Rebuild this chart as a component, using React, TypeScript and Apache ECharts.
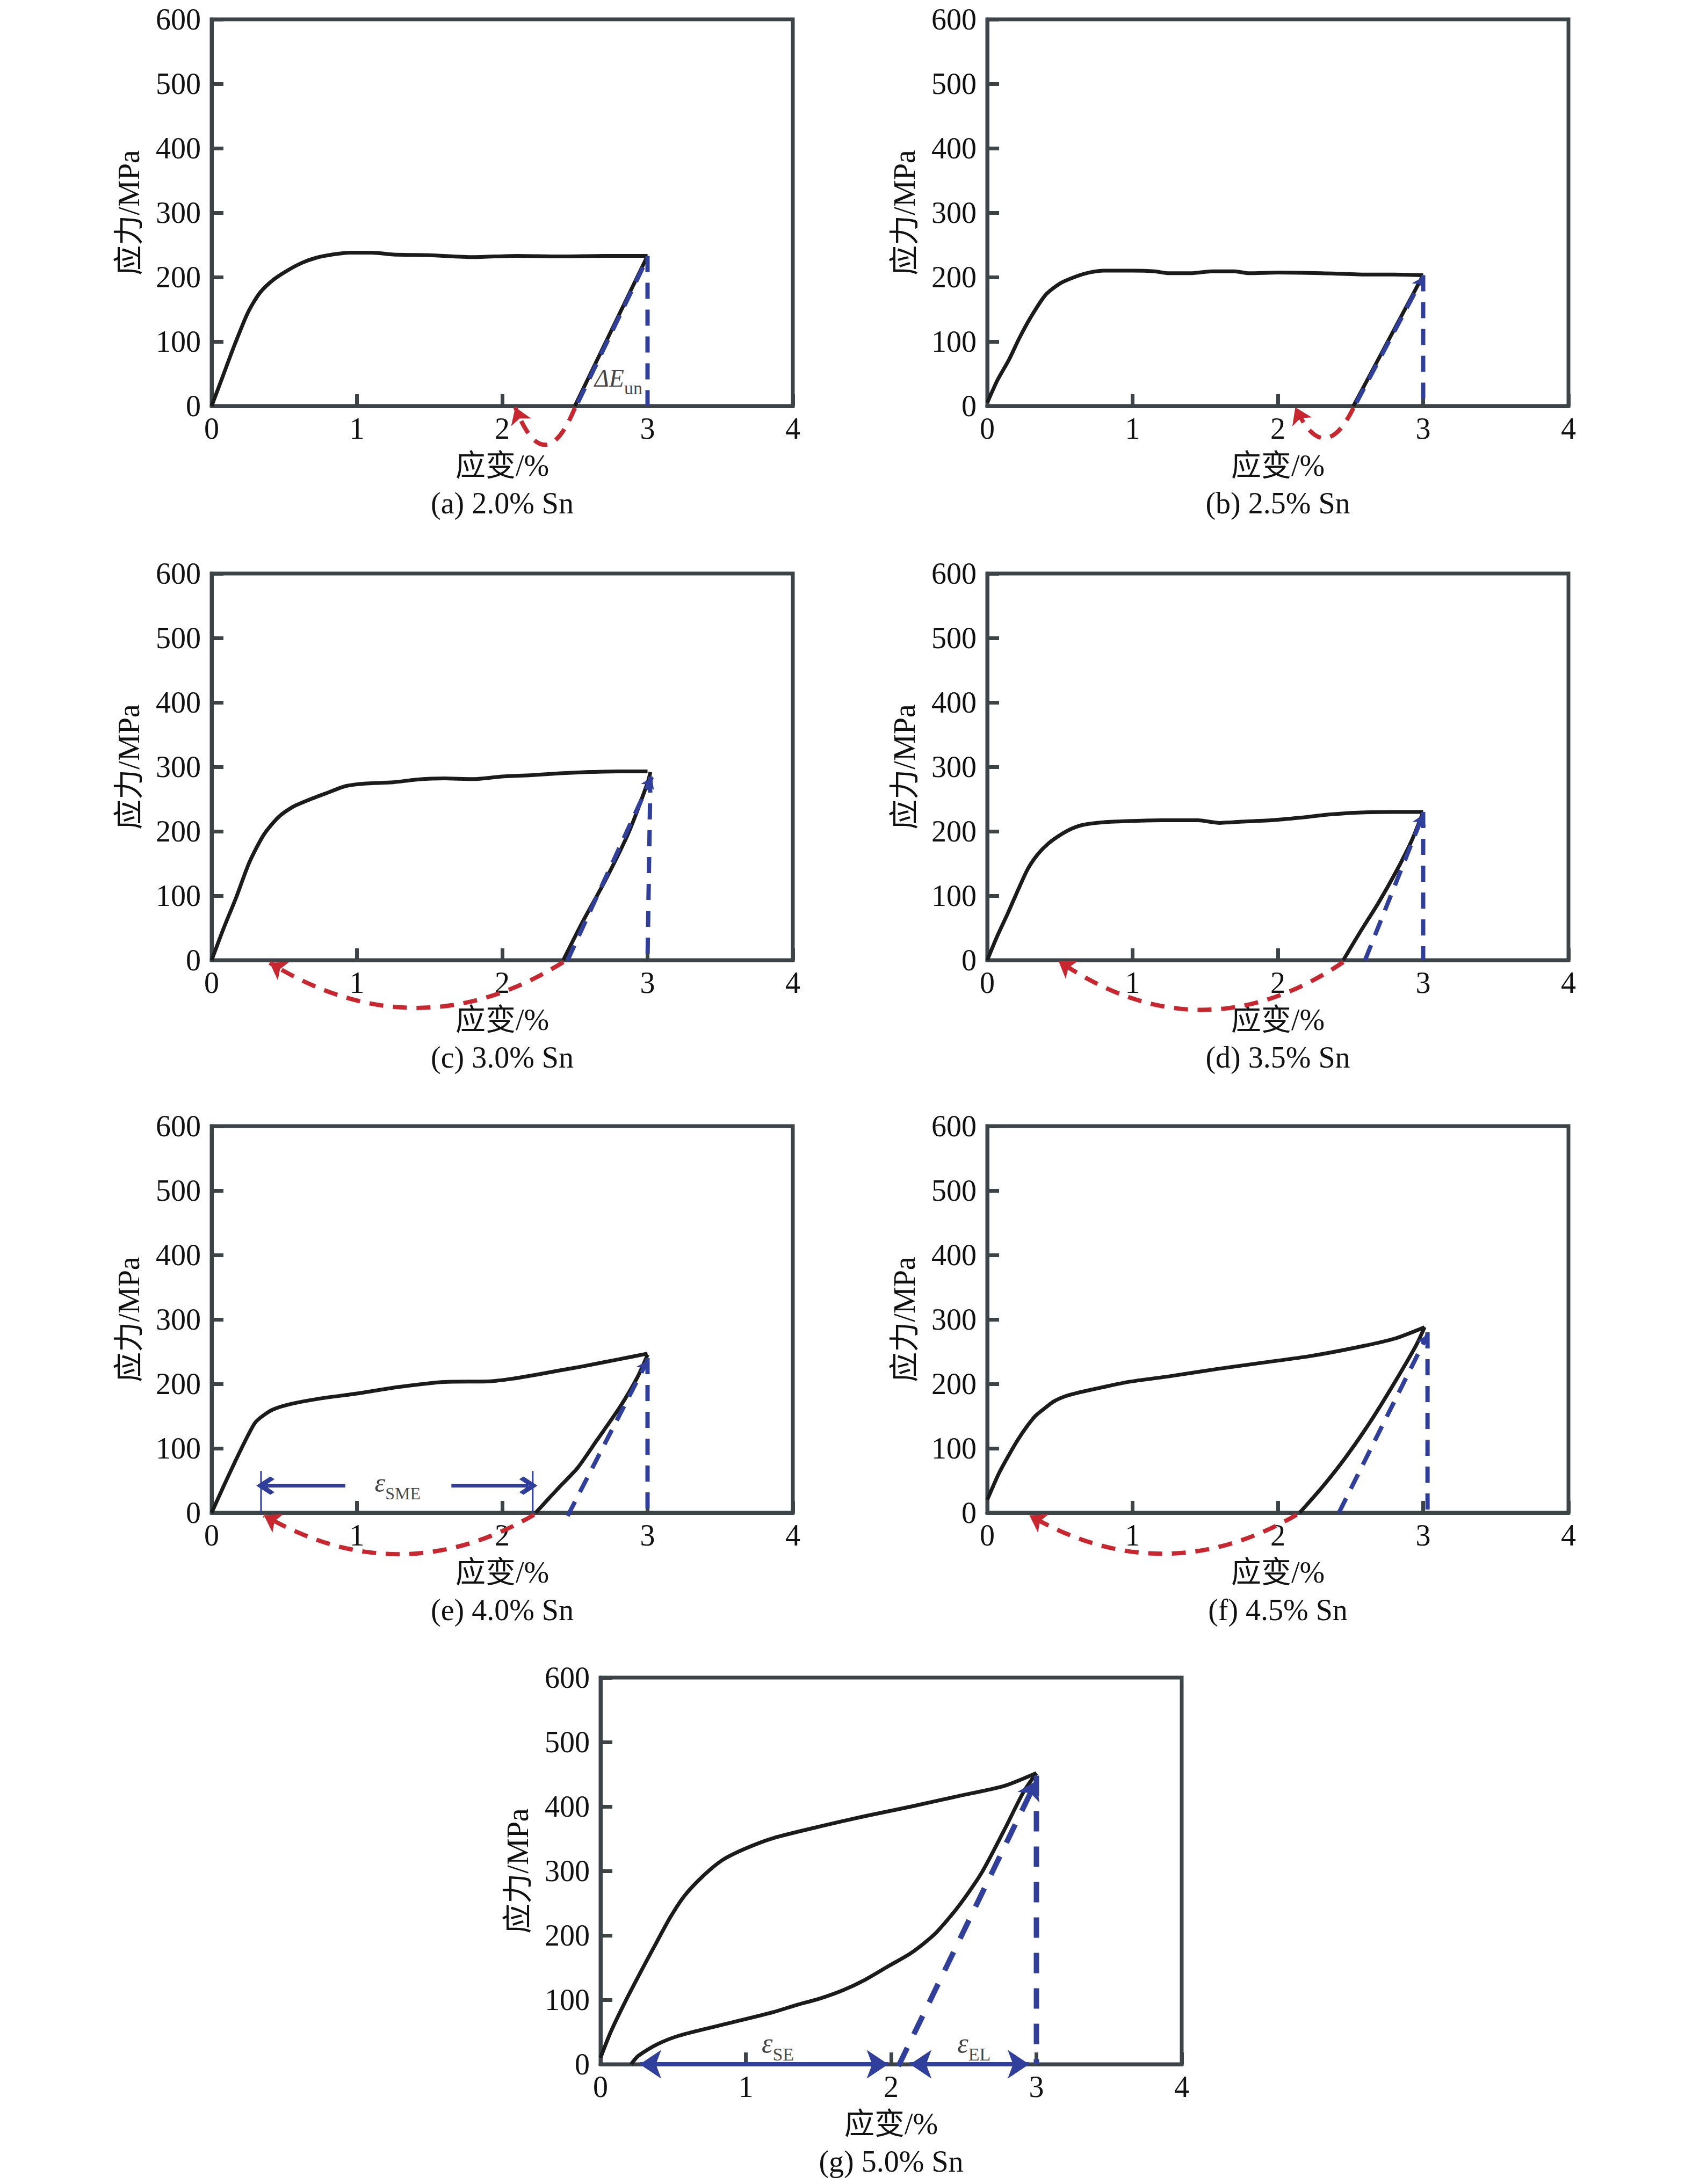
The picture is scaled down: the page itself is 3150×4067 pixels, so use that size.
import React, { useEffect, useRef } from 'react';
import * as echarts from 'echarts';

const FONT = '"Liberation Serif", "Noto Sans CJK SC", serif';
const TEXT = '#111111';
const BLACK = '#1b1b1b';
const FRAME = '#3c4448';
const BLUE = '#2f3f9b';
const RED = '#c9272f';

const strainRange = { min: 0, max: 4, interval: 1 };
const stressRange = { min: 0, max: 600, interval: 100 };
const strainName = '应变/%';
const stressName = '应力/MPa';

const captions = [
  '(a) 2.0% Sn',
  '(b) 2.5% Sn',
  '(c) 3.0% Sn',
  '(d) 3.5% Sn',
  '(e) 4.0% Sn',
  '(f) 4.5% Sn',
  '(g) 5.0% Sn',
];

// (a) 2.0% Sn
const loadA = [[0, 0], [0.08, 48], [0.16, 96], [0.25, 145], [0.33, 175], [0.42, 195], [0.52, 210], [0.62, 222], [0.72, 230], [0.83, 235], [0.95, 238], [1.1, 238], [1.25, 235], [1.5, 234], [1.8, 231], [2.1, 233], [2.4, 232], [2.7, 233], [3.0, 233]];
const unloadA = [[2.5, 0], [3.0, 233]];
const elasticA = [[2.52, 5], [3.0, 230]];
const dropA = [[3.0, 233], [3.0, 0]];
const recoveryA = [[2.5, -3], [2.09, -2]];

// (b) 2.5% Sn
const loadB = [[0, 5], [0.07, 40], [0.15, 72], [0.22, 105], [0.3, 138], [0.4, 172], [0.5, 190], [0.6, 200], [0.7, 207], [0.8, 210], [1.0, 210], [1.15, 209], [1.25, 206], [1.4, 206], [1.55, 209], [1.7, 209], [1.8, 206], [2.0, 207], [2.3, 206], [2.6, 204], [2.8, 204], [3.0, 203]];
const unloadB = [[2.52, 0], [3.0, 203]];
const elasticB = [[2.54, 5], [3.0, 200]];
const dropB = [[3.0, 203], [3.0, 0]];
const recoveryB = [[2.52, -3], [2.12, -2]];

// (c) 3.0% Sn
const loadC = [[0, 0], [0.08, 48], [0.17, 98], [0.26, 152], [0.36, 195], [0.46, 222], [0.56, 238], [0.66, 248], [0.8, 260], [0.92, 270], [1.05, 274], [1.25, 276], [1.4, 280], [1.6, 282], [1.8, 281], [2.0, 285], [2.2, 287], [2.4, 290], [2.6, 292], [2.8, 293], [3.0, 293]];
const unloadC = [[2.42, 0], [2.55, 58], [2.71, 124], [2.87, 198], [3.0, 275], [3.02, 292]];
const elasticC = [[2.45, 0], [3.03, 284]];
const dropC = [[3.02, 285], [3.0, 0]];
const recoveryC = [[2.42, -3], [0.4, -4]];

// (d) 3.5% Sn
const loadD = [[0, 0], [0.07, 38], [0.14, 72], [0.21, 108], [0.28, 142], [0.35, 165], [0.42, 181], [0.5, 194], [0.58, 204], [0.66, 210], [0.8, 214], [1.0, 216], [1.2, 217], [1.45, 217], [1.6, 213], [1.75, 215], [1.95, 217], [2.15, 221], [2.35, 226], [2.55, 229], [2.8, 230], [3.0, 230]];
const unloadD = [[2.45, 0], [2.57, 45], [2.69, 88], [2.82, 140], [2.92, 185], [3.0, 230]];
const elasticD = [[2.6, 0], [3.0, 226]];
const dropD = [[3.0, 230], [3.0, 0]];
const recoveryD = [[2.45, -3], [0.49, -1]];

// (e) 4.0% Sn
const loadE = [[0, 0], [0.08, 40], [0.165, 81], [0.25, 120], [0.3, 140], [0.35, 150], [0.42, 160], [0.55, 169], [0.74, 177], [1.0, 185], [1.28, 195], [1.6, 203], [1.92, 204], [2.07, 208], [2.23, 214], [2.4, 221], [2.55, 227], [2.8, 238], [3.0, 247]];
const unloadE = [[2.23, 0], [2.39, 39], [2.52, 70], [2.65, 112], [2.81, 164], [2.93, 210], [3.0, 245]];
const elasticE = [[2.45, -5], [3.0, 236]];
const dropE = [[3.0, 240], [3.0, 0]];
const recoveryE = [[2.22, -3], [0.36, -4]];
const smeBarLeft = [[0.34, 0], [0.34, 65]];
const smeBarRight = [[2.21, 0], [2.21, 65]];
const smeArrowLeft = [[0.92, 42], [0.37, 42]];
const smeArrowRight = [[1.65, 42], [2.18, 42]];
const smeLabelAt = [1.28, 42];

// (f) 4.5% Sn
const loadF = [[0, 20], [0.08, 61], [0.15, 90], [0.21, 113], [0.27, 133], [0.33, 150], [0.4, 163], [0.46, 173], [0.54, 181], [0.62, 186], [0.78, 194], [0.97, 203], [1.26, 212], [1.58, 223], [1.9, 233], [2.22, 243], [2.53, 256], [2.8, 270], [3.01, 288]];
const unloadF = [[2.15, 0], [2.31, 41], [2.47, 87], [2.63, 139], [2.79, 197], [2.95, 259], [3.01, 288]];
const elasticF = [[2.42, 0], [3.03, 276]];
const dropF = [[3.03, 280], [3.03, 0]];
const recoveryF = [[2.13, -3], [0.29, -4]];

// (g) 5.0% Sn
const loadG = [[0, 10], [0.07, 50], [0.17, 97], [0.29, 149], [0.39, 191], [0.48, 228], [0.58, 262], [0.71, 293], [0.84, 317], [1.0, 335], [1.19, 351], [1.51, 369], [1.82, 385], [2.14, 400], [2.46, 416], [2.78, 432], [3.0, 452]];
const unloadG = [[0.21, 0], [0.26, 13], [0.39, 31], [0.55, 45], [0.87, 63], [1.19, 81], [1.35, 92], [1.51, 102], [1.67, 115], [1.82, 131], [1.98, 152], [2.14, 173], [2.3, 202], [2.46, 244], [2.62, 296], [2.78, 364], [2.91, 422], [3.0, 452]];
const elasticG = [[2.05, -3], [3.0, 440]];
const dropG = [[3.0, 448], [3.0, 0]];
const seArrow = [[0.27, 0], [1.98, 0]];
const elArrow = [[2.13, 0], [2.95, 0]];
const seLabelAt = [1.22, 28];
const elLabelAt = [2.57, 28];
const dEunLabelAt = [2.8, 38];

// layout (pixels)
const W = 1082;
const H = 720;
const boxes = [
  { left: 394, top: 36 },
  { left: 1838, top: 36 },
  { left: 394, top: 1068 },
  { left: 1838, top: 1068 },
  { left: 394, top: 2097 },
  { left: 1838, top: 2097 },
  { left: 1118, top: 3124 },
];

const panels = [
  { load: loadA, unload: unloadA, elastic: elasticA, drop: dropA, recovery: recoveryA, curveness: 1.25, tipSize: 0 },
  { load: loadB, unload: unloadB, elastic: elasticB, drop: dropB, recovery: recoveryB, curveness: 1.05, tipSize: 20 },
  { load: loadC, unload: unloadC, elastic: elasticC, drop: dropC, recovery: recoveryC, curveness: 0.31, tipSize: 20 },
  { load: loadD, unload: unloadD, elastic: elasticD, drop: dropD, recovery: recoveryD, curveness: 0.34, tipSize: 20 },
  { load: loadE, unload: unloadE, elastic: elasticE, drop: dropE, recovery: recoveryE, curveness: 0.29, tipSize: 20 },
  { load: loadF, unload: unloadF, elastic: elasticF, drop: dropF, recovery: recoveryF, curveness: 0.29, tipSize: 20 },
  { load: loadG, unload: unloadG, elastic: elasticG, drop: dropG, recovery: null, curveness: 0, tipSize: 34 },
];

const CHEVRON = 'path://M0,0 L14,13 L10,17 L0,8 L-10,17 L-14,13 Z';

const symbolLabel = (i: number, at: number[], main: string, sub: string, mainSize: number, subSize: number) => ({
  type: 'scatter',
  xAxisIndex: i,
  yAxisIndex: i,
  data: [at],
  symbolSize: 1,
  itemStyle: { color: 'rgba(0,0,0,0)' },
  silent: true,
  z: 10,
  label: {
    show: true,
    position: 'inside',
    formatter: `{m|${main}}{s|${sub}}`,
    rich: {
      m: { fontFamily: FONT, fontStyle: 'italic', fontSize: mainSize, color: TEXT, verticalAlign: 'bottom', padding: [0, 0, Math.round(subSize * 0.35), 0] },
      s: { fontFamily: FONT, fontSize: subSize, color: TEXT, verticalAlign: 'bottom' },
    },
  },
});

function buildSeries() {
  const series: any[] = [];
  panels.forEach((p, i) => {
    const curve = { symbol: 'none', smooth: 0.25, lineStyle: { color: BLACK, width: 7 } };
    series.push({ type: 'line', xAxisIndex: i, yAxisIndex: i, data: p.load, ...curve });
    series.push({ type: 'line', xAxisIndex: i, yAxisIndex: i, data: p.unload, ...curve });
    const dash = i === 6 ? [38, 28] : [30, 20];
    const dw = i === 6 ? 10 : 8;
    series.push({
      type: 'line', xAxisIndex: i, yAxisIndex: i, data: p.drop, symbol: 'none', z: 4,
      lineStyle: { color: BLUE, width: dw, type: dash },
    });
    series.push({
      type: 'lines', coordinateSystem: 'cartesian2d', xAxisIndex: i, yAxisIndex: i, clip: false, z: 4,
      symbol: ['none', p.tipSize ? 'arrow' : 'none'], symbolSize: p.tipSize || 1,
      lineStyle: { color: BLUE, width: dw, type: dash, opacity: 1 },
      data: [{ coords: p.elastic }],
    });
    if (p.recovery) {
      series.push({
        type: 'lines', coordinateSystem: 'cartesian2d', xAxisIndex: i, yAxisIndex: i, clip: false, z: 5,
        symbol: ['none', 'arrow'], symbolSize: 30,
        lineStyle: { color: RED, width: 8, type: [26, 18], curveness: p.curveness, opacity: 1 },
        data: [{ coords: p.recovery }],
      });
    }
  });

  // (a) unloading modulus label
  series.push(symbolLabel(0, dEunLabelAt, 'ΔE', 'un', 46, 34));

  // (e) shape memory strain
  [smeBarLeft, smeBarRight].forEach((bar) => {
    series.push({ type: 'line', xAxisIndex: 4, yAxisIndex: 4, data: bar, symbol: 'none', lineStyle: { color: BLUE, width: 3 } });
  });
  series.push({
    type: 'lines', coordinateSystem: 'cartesian2d', xAxisIndex: 4, yAxisIndex: 4, clip: false, z: 5,
    symbol: ['none', CHEVRON], symbolSize: 34,
    lineStyle: { color: BLUE, width: 7, opacity: 1 },
    data: [{ coords: smeArrowLeft }, { coords: smeArrowRight }],
  });
  series.push(symbolLabel(4, smeLabelAt, 'ε', 'SME', 50, 32));

  // (g) superelastic / elastic strain
  series.push({
    type: 'lines', coordinateSystem: 'cartesian2d', xAxisIndex: 6, yAxisIndex: 6, clip: false, z: 5,
    symbol: ['arrow', 'arrow'], symbolSize: 40,
    lineStyle: { color: BLUE, width: 8, opacity: 1 },
    data: [{ coords: seArrow }, { coords: elArrow }],
  });
  series.push(symbolLabel(6, seLabelAt, 'ε', 'SE', 52, 34));
  series.push(symbolLabel(6, elLabelAt, 'ε', 'EL', 52, 34));
  return series;
}

function buildOption(): any {
  const labelStyle = { fontFamily: FONT, fontSize: 56, color: TEXT };
  const frameLine = { color: FRAME, width: 7 };
  return {
    animation: false,
    backgroundColor: '#ffffff',
    title: boxes.map((b, i) => ({
      text: captions[i],
      left: b.left + W / 2,
      top: b.top + H + 153,
      textAlign: 'center',
      padding: 0,
      textStyle: { ...labelStyle, fontWeight: 'normal' },
    })),
    grid: boxes.map((b) => ({
      left: b.left, top: b.top, width: W, height: H,
      show: true, borderColor: FRAME, borderWidth: 7, backgroundColor: 'transparent',
    })),
    xAxis: boxes.map((_, i) => ({
      gridIndex: i, type: 'value', ...strainRange,
      name: strainName, nameLocation: 'middle', nameGap: 83, nameTextStyle: labelStyle,
      axisLine: { show: true, lineStyle: frameLine },
      axisTick: { show: true, inside: true, length: 22, lineStyle: frameLine },
      axisLabel: { ...labelStyle, margin: 14 },
      splitLine: { show: false },
    })),
    yAxis: boxes.map((_, i) => ({
      gridIndex: i, type: 'value', ...stressRange,
      name: stressName, nameLocation: 'middle', nameGap: 126, nameTextStyle: labelStyle,
      axisLine: { show: true, lineStyle: frameLine },
      axisTick: { show: true, inside: true, length: 22, lineStyle: frameLine },
      axisLabel: { ...labelStyle, margin: 20 },
      splitLine: { show: false },
    })),
    series: buildSeries(),
  };
}

export default function App() {
  const ref = useRef<HTMLDivElement>(null);
  useEffect(() => {
    if (!ref.current) return;
    const chart = echarts.init(ref.current, undefined, { renderer: 'svg' });
    chart.setOption(buildOption());
    return () => chart.dispose();
  }, []);
  return (
    <div
      ref={ref}
      style={{ position: 'fixed', left: 0, top: 0, width: 3150, height: 4067, background: '#ffffff' }}
    />
  );
}
